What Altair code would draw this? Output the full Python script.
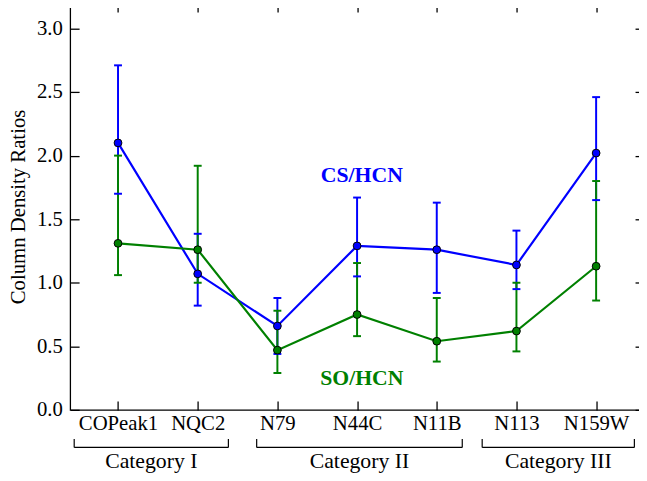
import altair as alt
import pandas as pd

# ---- data ----
names = ["COPeak1", "NQC2", "N79", "N44C", "N11B", "N113", "N159W"]
cs_val = [2.10, 1.07, 0.66, 1.29, 1.26, 1.14, 2.02]
cs_hi = [2.71, 1.385, 0.88, 1.67, 1.63, 1.41, 2.46]
cs_lo = [1.70, 0.82, 0.44, 1.05, 0.92, 0.95, 1.65]
so_val = [1.31, 1.26, 0.47, 0.75, 0.54, 0.62, 1.13]
so_hi = [2.00, 1.92, 0.78, 1.155, 0.88, 1.00, 1.80]
so_lo = [1.06, 1.00, 0.29, 0.58, 0.38, 0.46, 0.86]

series_names = ["CS/HCN", "SO/HCN"]
series_colors = ["#0000ff", "#008000"]
label_x = [3.06, 3.06]
label_y = [1.845, 0.252]

cat_names = ["Category I", "Category II", "Category III"]
cat_start = [-0.55, 1.74, 4.57]
cat_end = [1.385, 4.32, 6.48]

y_ticks = [0.0, 0.5, 1.0, 1.5, 2.0, 2.5, 3.0]

rows = []
for i, n in enumerate(names):
    rows.append(dict(series="CS/HCN", idx=i, name=n, v=cs_val[i], lo=cs_lo[i], hi=cs_hi[i]))
for i, n in enumerate(names):
    rows.append(dict(series="SO/HCN", idx=i, name=n, v=so_val[i], lo=so_lo[i], hi=so_hi[i]))
df = pd.DataFrame(rows)

ann = pd.DataFrame(dict(series=series_names, x=label_x, y=label_y))
cats = pd.DataFrame(dict(cat=cat_names, start=cat_start, end=cat_end))

FONT = "Liberation Serif"
FS = 21

xs = alt.Scale(domain=[-0.6, 6.6], nice=False, zero=False)
ys = alt.Scale(domain=[0, 3.2], nice=False, zero=False)
col = alt.Color("series:N", scale=alt.Scale(domain=series_names, range=series_colors), legend=None)

label_expr = "[" + ",".join(f"'{n}'" for n in names) + "][datum.value]"
idx_vals = list(range(len(names)))

common = dict(tickSize=9, offset=-9, domain=False, grid=False, tickColor="black", tickWidth=1.3)

x_bottom = alt.Axis(orient="bottom", values=idx_vals, labelExpr=label_expr, labelPadding=3,
                    labelFont=FONT, labelFontSize=FS, labelColor="black", labelFlush=False,
                    labelOverlap=False, title=None, **common)
y_left = alt.Axis(orient="left", values=y_ticks, format=".1f", labelPadding=8,
                  labelFont=FONT, labelFontSize=FS, labelColor="black",
                  title="Column Density Ratios", titleFont=FONT, titleFontSize=FS,
                  titleFontWeight="normal", titleColor="black", titlePadding=8, **common)
x_top = alt.Axis(orient="top", values=idx_vals, labels=False, title=None, **common)
y_right = alt.Axis(orient="right", values=y_ticks, labels=False, title=None, **common)

bars = alt.Chart(df).mark_rule(strokeWidth=2).encode(
    x=alt.X("idx:Q", scale=xs, axis=x_bottom),
    y=alt.Y("lo:Q", scale=ys, axis=y_left),
    y2="hi:Q",
    color=col,
)
cap_hi = alt.Chart(df).mark_tick(orient="horizontal", size=8, thickness=2, opacity=1).encode(
    x=alt.X("idx:Q", scale=xs, axis=None),
    y=alt.Y("hi:Q", scale=ys, axis=None),
    color=col,
)
cap_lo = alt.Chart(df).mark_tick(orient="horizontal", size=8, thickness=2, opacity=1).encode(
    x=alt.X("idx:Q", scale=xs, axis=None),
    y=alt.Y("lo:Q", scale=ys, axis=None),
    color=col,
)
lines = alt.Chart(df).mark_line(strokeWidth=2.2).encode(
    x=alt.X("idx:Q", scale=xs, axis=x_top),
    y=alt.Y("v:Q", scale=ys, axis=y_right),
    color=col,
)
points = alt.Chart(df).mark_point(filled=True, size=62, opacity=1, stroke="black", strokeWidth=1).encode(
    x=alt.X("idx:Q", scale=xs, axis=None),
    y=alt.Y("v:Q", scale=ys, axis=None),
    color=col,
)
labels = alt.Chart(ann).mark_text(font=FONT, fontSize=22, fontWeight="bold", align="center",
                                  baseline="middle").encode(
    x=alt.X("x:Q", scale=xs, axis=None),
    y=alt.Y("y:Q", scale=ys, axis=None),
    text="series:N",
    color=col,
)

br_h = alt.Chart(cats).mark_rule(color="black", strokeWidth=1.2).encode(
    x=alt.X("start:Q", scale=xs, axis=None), x2="end:Q", y=alt.value(450)
)
br_l = alt.Chart(cats).mark_rule(color="black", strokeWidth=1.2).encode(
    x=alt.X("start:Q", scale=xs, axis=None), y=alt.value(441.5), y2=alt.value(450)
)
br_r = alt.Chart(cats).mark_rule(color="black", strokeWidth=1.2).encode(
    x=alt.X("end:Q", scale=xs, axis=None), y=alt.value(441.5), y2=alt.value(450)
)
br_t = alt.Chart(cats).transform_calculate(mid="(datum.start + datum.end) / 2").mark_text(
    font=FONT, fontSize=22, align="center", baseline="alphabetic", color="black"
).encode(
    x=alt.X("mid:Q", scale=xs, axis=None), y=alt.value(471), text="cat:N"
)

chart = alt.layer(bars, cap_hi, cap_lo, lines, points, labels, br_h, br_l, br_r, br_t).resolve_axis(
    x="independent", y="independent"
).properties(
    width=581, height=412,
    padding={"left": 63, "top": -8, "right": -5, "bottom": 66},
    autosize="none",
).configure_view(stroke="black", strokeWidth=1.3)

chart.save("out.html", embed_options={"renderer": "svg", "actions": False})
